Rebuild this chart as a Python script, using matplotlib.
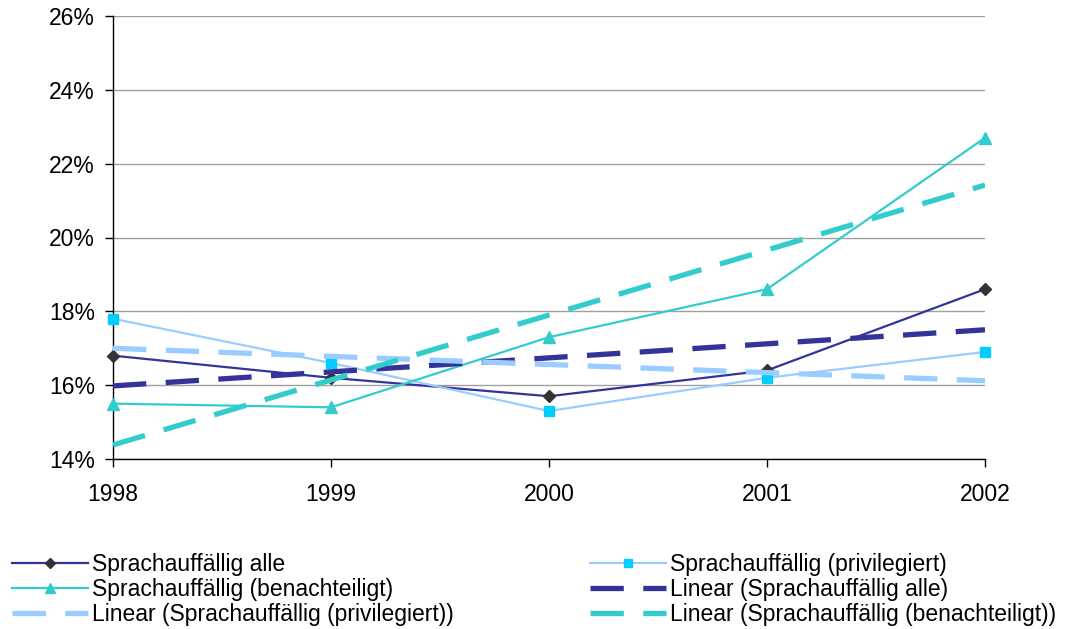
import numpy as np
import matplotlib
matplotlib.use("Agg")
import matplotlib.pyplot as plt
from matplotlib.ticker import FuncFormatter

plt.rcParams['font.family'] = ['Liberation Sans', 'DejaVu Sans']
plt.rcParams['lines.scale_dashes'] = False

years = [1998, 1999, 2000, 2001, 2002]
alle = [16.8, 16.2, 15.7, 16.4, 18.6]
privilegiert = [17.8, 16.6, 15.3, 16.2, 16.9]
benachteiligt = [15.5, 15.4, 17.3, 18.6, 22.7]

labels = ["Sprachauffällig alle", "Sprachauffällig (privilegiert)",
          "Sprachauffällig (benachteiligt)", "Linear (Sprachauffällig alle)",
          "Linear (Sprachauffällig (privilegiert))", "Linear (Sprachauffällig (benachteiligt))"]
yticks = [14, 16, 18, 20, 22, 24, 26]

c_alle = '#333399'
c_priv = '#99CCFF'
c_priv_m = '#00CCFF'
c_ben = '#33CCCC'

fig = plt.figure(figsize=(10.8, 6.29), dpi=100)
ax = fig.add_axes([113/1080, 1-459/629, (985-113)/1080, (459-16)/629])

x = np.arange(len(years))

def trend(y):
    k, b = np.polyfit(x, y, 1)
    return k * x + b

fs = 16.5
h_alle, = ax.plot(x, alle, color=c_alle, lw=1.6, marker='D', ms=6.5, mfc='#333333', mec='#333333', clip_on=False, zorder=3)
h_priv, = ax.plot(x, privilegiert, color=c_priv, lw=1.6, marker='s', ms=7.5, mfc=c_priv_m, mec=c_priv_m, clip_on=False, zorder=3)
h_ben, = ax.plot(x, benachteiligt, color=c_ben, lw=1.6, marker='^', ms=8, mfc=c_ben, mec=c_ben, clip_on=False, zorder=3)

dash = (24, 14)
h_talle, = ax.plot(x, trend(alle), color=c_alle, lw=3.8, dashes=dash, zorder=4, dash_capstyle='butt')
h_tpriv, = ax.plot(x, trend(privilegiert), color=c_priv, lw=3.8, dashes=dash, zorder=4, dash_capstyle='butt')
h_tben, = ax.plot(x, trend(benachteiligt), color=c_ben, lw=3.8, dashes=dash, zorder=4, dash_capstyle='butt')

ax.set_xlim(0, len(years) - 1)
ax.set_ylim(yticks[0], yticks[-1])
ax.set_yticks(yticks)
ax.yaxis.set_major_formatter(FuncFormatter(lambda v, p: f"{int(round(v))}%"))
ax.set_xticks(x)
ax.set_xticklabels([str(y) for y in years])
ax.tick_params(axis='both', labelsize=fs, direction='out', length=6, width=1, color='black')
ax.tick_params(axis='y', pad=7)
ax.tick_params(axis='x', pad=11)
ax.grid(axis='y', color='#A0A0A0', lw=1)
ax.set_axisbelow(True)
for s in ('top', 'right'):
    ax.spines[s].set_visible(False)
for s in ('left', 'bottom'):
    ax.spines[s].set_color('black')
    ax.spines[s].set_linewidth(1)

leg_kw = dict(fontsize=fs, frameon=False, handlelength=3.3, handletextpad=0.2,
              labelspacing=0.08, borderaxespad=0, borderpad=0, loc='upper left',
              markerscale=0.85)
l1 = fig.legend([h_alle, h_ben, h_tpriv], [labels[0], labels[2], labels[4]],
                bbox_to_anchor=(12/1080, 1-553/629), **leg_kw)
l2 = fig.legend([h_priv, h_talle, h_tben], [labels[1], labels[3], labels[5]],
                bbox_to_anchor=(590/1080, 1-553/629), **leg_kw)

fig.savefig('out.png', dpi=100)
